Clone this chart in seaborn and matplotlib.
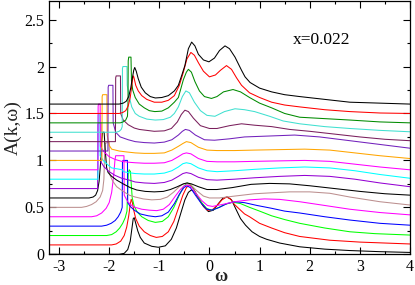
import matplotlib
matplotlib.use('Agg')
import matplotlib.pyplot as plt
from matplotlib.ticker import MultipleLocator, FuncFormatter
import seaborn as sns
import pandas as pd

# A(k,w) curves, (w, A) pairs, each k already shifted up by 0.1
k00 = [(-3.2, 0.0), (-1.80, 0.0), (-1.70, 0.01), (-1.63, 0.05), (-1.58, 0.14), (-1.55, 0.26), (-1.52, 0.38),
       (-1.50, 0.39), (-1.47, 0.33), (-1.43, 0.25), (-1.38, 0.18), (-1.30, 0.12), (-1.15, 0.085), (-1.02, 0.075),
       (-0.88, 0.09), (-0.76, 0.16), (-0.66, 0.28), (-0.57, 0.44), (-0.49, 0.58), (-0.42, 0.66), (-0.36, 0.685),
       (-0.30, 0.67), (-0.22, 0.60), (-0.12, 0.51), (-0.02, 0.455), (0.08, 0.47), (0.18, 0.54), (0.27, 0.60),
       (0.36, 0.61), (0.44, 0.58), (0.52, 0.49), (0.62, 0.38), (0.72, 0.31), (0.85, 0.24), (1.0, 0.19),
       (1.14, 0.16), (1.4, 0.12), (1.8, 0.08), (2.3, 0.055), (2.8, 0.04), (3.4, 0.028), (4.0, 0.02)]
k01 = [(-3.2, 0.1), (-1.95, 0.1), (-1.86, 0.11), (-1.77, 0.14), (-1.70, 0.20), (-1.65, 0.29), (-1.61, 0.41),
       (-1.58, 0.53), (-1.56, 0.585), (-1.54, 0.56), (-1.51, 0.47), (-1.47, 0.38), (-1.40, 0.30), (-1.30, 0.24),
       (-1.18, 0.20), (-1.06, 0.18), (-0.94, 0.19), (-0.82, 0.24), (-0.71, 0.35), (-0.62, 0.49), (-0.53, 0.63),
       (-0.46, 0.71), (-0.40, 0.74), (-0.33, 0.71), (-0.24, 0.62), (-0.14, 0.53), (-0.04, 0.47), (0.05, 0.47),
       (0.15, 0.52), (0.25, 0.58), (0.34, 0.61), (0.42, 0.59), (0.50, 0.53), (0.60, 0.48), (0.70, 0.43),
       (0.80, 0.40), (1.0, 0.33), (1.24, 0.28), (1.5, 0.23), (1.8, 0.19), (2.4, 0.15), (3.0, 0.13),
       (3.5, 0.12), (4.0, 0.11)]
k02 = [(-3.2, 0.2), (-2.05, 0.2), (-1.95, 0.21), (-1.86, 0.24), (-1.79, 0.28), (-1.73, 0.33), (-1.68, 0.39),
       (-1.645, 0.46), (-1.63, 0.70), (-1.62, 0.86), (-1.60, 0.90), (-1.575, 0.88), (-1.56, 0.75), (-1.54, 0.60),
       (-1.50, 0.51), (-1.44, 0.45), (-1.35, 0.40), (-1.22, 0.36), (-1.08, 0.34), (-0.94, 0.35), (-0.82, 0.40),
       (-0.71, 0.50), (-0.61, 0.62), (-0.52, 0.72), (-0.44, 0.76), (-0.37, 0.74), (-0.28, 0.66), (-0.17, 0.56),
       (-0.06, 0.49), (0.04, 0.47), (0.15, 0.49), (0.30, 0.53), (0.47, 0.555), (0.62, 0.54), (0.80, 0.50),
       (1.0, 0.46), (1.24, 0.41), (1.5, 0.37), (1.8, 0.33), (2.3, 0.28), (2.8, 0.24), (3.3, 0.22), (4.0, 0.205)]
k03 = [(-3.2, 0.3), (-2.15, 0.3), (-2.05, 0.31), (-1.96, 0.33), (-1.88, 0.36), (-1.82, 0.40), (-1.77, 0.45),
       (-1.74, 0.50), (-1.735, 0.98), (-1.725, 1.0), (-1.635, 1.0), (-1.63, 0.55), (-1.58, 0.51), (-1.50, 0.47),
       (-1.38, 0.43), (-1.22, 0.41), (-1.08, 0.40), (-0.95, 0.41), (-0.82, 0.45), (-0.70, 0.54), (-0.60, 0.64),
       (-0.51, 0.71), (-0.45, 0.73), (-0.38, 0.71), (-0.28, 0.63), (-0.16, 0.54), (-0.05, 0.48), (0.05, 0.47),
       (0.20, 0.50), (0.35, 0.54), (0.50, 0.56), (0.70, 0.55), (0.95, 0.52), (1.24, 0.49), (1.5, 0.46),
       (1.8, 0.44), (2.3, 0.40), (2.8, 0.365), (3.4, 0.33), (4.0, 0.31)]
k04 = [(-3.2, 0.4), (-2.35, 0.4), (-2.25, 0.41), (-2.15, 0.44), (-2.06, 0.49), (-2.0, 0.55), (-1.95, 0.66),
       (-1.91, 0.84), (-1.885, 1.0), (-1.87, 1.05), (-1.705, 1.05), (-1.70, 0.63), (-1.63, 0.56), (-1.55, 0.52),
       (-1.48, 0.50), (-1.35, 0.48), (-1.2, 0.47), (-1.05, 0.465), (-0.92, 0.48), (-0.80, 0.53), (-0.68, 0.62),
       (-0.58, 0.69), (-0.50, 0.73), (-0.44, 0.74), (-0.37, 0.72), (-0.27, 0.65), (-0.15, 0.57), (-0.04, 0.52),
       (0.06, 0.51), (0.25, 0.53), (0.50, 0.56), (0.80, 0.58), (1.1, 0.59), (1.4, 0.585), (1.8, 0.56),
       (2.3, 0.52), (2.8, 0.48), (3.4, 0.445), (4.0, 0.42)]
k05 = [(-3.2, 0.5), (-2.55, 0.5), (-2.45, 0.51), (-2.35, 0.53), (-2.26, 0.56), (-2.18, 0.61), (-2.13, 0.68),
       (-2.105, 0.80), (-2.09, 1.10), (-2.08, 1.18), (-2.0, 1.2), (-1.99, 0.85), (-1.93, 0.78), (-1.85, 0.72),
       (-1.72, 0.67), (-1.60, 0.63), (-1.48, 0.61), (-1.32, 0.59), (-1.15, 0.58), (-0.98, 0.585), (-0.84, 0.61),
       (-0.72, 0.66), (-0.60, 0.72), (-0.52, 0.75), (-0.45, 0.755), (-0.37, 0.74), (-0.26, 0.68), (-0.12, 0.62),
       (0.0, 0.60), (0.2, 0.60), (0.5, 0.62), (0.9, 0.645), (1.24, 0.655), (1.6, 0.665), (2.0, 0.665),
       (2.4, 0.65), (2.8, 0.61), (3.4, 0.56), (4.0, 0.525)]
k06 = [(-3.2, 0.6), (-2.40, 0.6), (-2.32, 0.61), (-2.27, 0.63), (-2.23, 0.68), (-2.20, 0.78), (-2.17, 0.98),
       (-2.15, 1.20), (-2.13, 1.30), (-2.10, 1.30), (-2.08, 1.12), (-2.05, 0.92), (-2.02, 0.87), (-1.95, 0.83),
       (-1.85, 0.79), (-1.72, 0.75), (-1.58, 0.71), (-1.45, 0.685), (-1.28, 0.67), (-1.10, 0.665), (-0.92, 0.67),
       (-0.78, 0.69), (-0.64, 0.72), (-0.52, 0.75), (-0.45, 0.76), (-0.36, 0.75), (-0.22, 0.72), (-0.05, 0.69),
       (0.15, 0.69), (0.45, 0.71), (0.83, 0.745), (1.2, 0.755), (1.6, 0.75), (2.0, 0.73), (2.5, 0.70),
       (3.0, 0.67), (3.5, 0.645), (4.0, 0.63)]
k07 = [(-3.2, 0.7), (-2.23, 0.7), (-2.225, 1.38), (-2.215, 1.40), (-2.165, 1.40), (-2.16, 0.98), (-2.10, 0.93),
       (-2.0, 0.88), (-1.88, 0.84), (-1.75, 0.81), (-1.6, 0.79), (-1.48, 0.77), (-1.30, 0.76), (-1.10, 0.755),
       (-0.90, 0.765), (-0.75, 0.79), (-0.62, 0.83), (-0.53, 0.86), (-0.46, 0.87), (-0.37, 0.86), (-0.22, 0.82),
       (-0.05, 0.795), (0.15, 0.79), (0.5, 0.80), (0.9, 0.815), (1.4, 0.83), (1.9, 0.84), (2.4, 0.83),
       (2.9, 0.80), (3.4, 0.76), (4.0, 0.72)]
k08 = [(-3.2, 0.8), (-2.225, 0.8), (-2.22, 1.48), (-2.21, 1.50), (-2.185, 1.50), (-2.18, 1.05), (-2.12, 1.0),
       (-2.02, 0.95), (-1.95, 0.92), (-1.73, 0.90), (-1.72, 0.88), (-1.62, 0.87), (-1.48, 0.86), (-1.30, 0.855),
       (-1.10, 0.855), (-0.90, 0.865), (-0.75, 0.89), (-0.62, 0.93), (-0.53, 0.965), (-0.46, 0.975),
       (-0.37, 0.965), (-0.22, 0.92), (-0.05, 0.89), (0.15, 0.88), (0.5, 0.89), (0.9, 0.905), (1.4, 0.92),
       (1.9, 0.93), (2.4, 0.92), (2.9, 0.89), (3.4, 0.85), (4.0, 0.81)]
k09 = [(-3.2, 0.9), (-2.225, 0.9), (-2.22, 1.58), (-2.21, 1.60), (-2.18, 1.60), (-2.175, 1.15), (-2.10, 1.09),
       (-2.0, 1.04), (-1.88, 1.01), (-1.75, 0.99), (-1.6, 0.98), (-1.48, 0.975), (-1.30, 0.97), (-1.10, 0.97),
       (-0.90, 0.975), (-0.75, 1.0), (-0.62, 1.04), (-0.53, 1.07), (-0.46, 1.08), (-0.37, 1.07), (-0.22, 1.02),
       (-0.05, 0.99), (0.15, 0.985), (0.5, 0.985), (0.9, 0.99), (1.4, 0.995), (1.9, 1.0), (2.4, 0.99),
       (2.9, 0.96), (3.4, 0.93), (4.0, 0.90)]
k10 = [(-3.2, 1.0), (-2.145, 1.0), (-2.14, 1.68), (-2.13, 1.70), (-2.045, 1.70), (-2.04, 1.27), (-2.0, 1.16),
       (-1.95, 1.12), (-1.8, 1.10), (-1.65, 1.09), (-1.48, 1.08), (-1.30, 1.075), (-1.10, 1.075), (-0.90, 1.08),
       (-0.75, 1.11), (-0.62, 1.15), (-0.53, 1.18), (-0.46, 1.20), (-0.37, 1.19), (-0.22, 1.14), (-0.05, 1.11),
       (0.15, 1.105), (0.5, 1.105), (0.9, 1.11), (1.4, 1.115), (1.9, 1.12), (2.4, 1.11), (2.9, 1.08),
       (3.4, 1.05), (4.0, 1.02)]
k11 = [(-3.2, 1.1), (-2.025, 1.1), (-2.02, 1.78), (-2.01, 1.80), (-1.925, 1.80), (-1.92, 1.40), (-1.87, 1.30),
       (-1.78, 1.25), (-1.62, 1.22), (-1.48, 1.20), (-1.30, 1.19), (-1.10, 1.185), (-0.90, 1.195), (-0.75, 1.22),
       (-0.62, 1.27), (-0.54, 1.31), (-0.48, 1.33), (-0.40, 1.32), (-0.28, 1.27), (-0.10, 1.22), (0.10, 1.215),
       (0.4, 1.23), (0.7, 1.25), (1.2, 1.26), (1.7, 1.27), (2.2, 1.25), (2.8, 1.21), (3.4, 1.17), (4.0, 1.13)]
k12 = [(-3.2, 1.2), (-1.875, 1.2), (-1.87, 1.88), (-1.86, 1.90), (-1.775, 1.90), (-1.77, 1.50), (-1.72, 1.43),
       (-1.62, 1.38), (-1.50, 1.345), (-1.40, 1.33), (-1.25, 1.32), (-1.10, 1.31), (-0.90, 1.315), (-0.76, 1.34),
       (-0.64, 1.41), (-0.56, 1.49), (-0.49, 1.535), (-0.42, 1.52), (-0.32, 1.45), (-0.18, 1.37), (0.0, 1.34),
       (0.15, 1.34), (0.4, 1.37), (0.64, 1.39), (0.9, 1.375), (1.24, 1.36), (1.6, 1.33), (2.0, 1.31),
       (2.5, 1.28), (3.0, 1.25), (3.5, 1.225), (4.0, 1.21)]
k13 = [(-3.2, 1.3), (-1.86, 1.3), (-1.80, 1.31), (-1.76, 1.33), (-1.74, 1.36), (-1.735, 1.98), (-1.725, 2.0),
       (-1.645, 2.0), (-1.64, 1.80), (-1.60, 1.68), (-1.55, 1.57), (-1.48, 1.50), (-1.40, 1.47), (-1.25, 1.44),
       (-1.08, 1.43), (-0.92, 1.435), (-0.78, 1.46), (-0.70, 1.50), (-0.62, 1.57), (-0.54, 1.68), (-0.47, 1.74),
       (-0.40, 1.72), (-0.30, 1.62), (-0.18, 1.53), (-0.05, 1.48), (0.11, 1.47), (0.30, 1.52), (0.51, 1.55),
       (0.7, 1.54), (0.9, 1.52), (1.2, 1.47), (1.47, 1.42), (1.8, 1.39), (2.3, 1.36), (2.8, 1.34),
       (3.4, 1.32), (4.0, 1.305)]
k14 = [(-3.2, 1.4), (-1.78, 1.4), (-1.72, 1.41), (-1.67, 1.43), (-1.635, 1.47), (-1.625, 1.60), (-1.62, 2.06),
       (-1.61, 2.10), (-1.565, 2.10), (-1.555, 1.85), (-1.53, 1.75), (-1.48, 1.67), (-1.40, 1.60), (-1.30, 1.56),
       (-1.20, 1.53), (-1.09, 1.52), (-0.95, 1.525), (-0.82, 1.56), (-0.70, 1.62), (-0.62, 1.67), (-0.52, 1.86),
       (-0.46, 1.94), (-0.42, 1.97), (-0.36, 1.94), (-0.29, 1.84), (-0.20, 1.74), (-0.10, 1.68), (0.04, 1.66),
       (0.15, 1.68), (0.28, 1.73), (0.47, 1.755), (0.62, 1.73), (0.80, 1.67), (1.0, 1.61), (1.24, 1.56),
       (1.5, 1.50), (1.8, 1.46), (2.3, 1.445), (2.8, 1.43), (3.4, 1.41), (4.0, 1.40)]
k15 = [(-3.2, 1.5), (-1.80, 1.5), (-1.73, 1.51), (-1.67, 1.53), (-1.62, 1.58), (-1.58, 1.67), (-1.55, 1.79),
       (-1.53, 1.88), (-1.515, 1.90), (-1.50, 1.87), (-1.47, 1.80), (-1.42, 1.74), (-1.35, 1.69), (-1.25, 1.65),
       (-1.10, 1.62), (-0.95, 1.62), (-0.82, 1.64), (-0.70, 1.69), (-0.60, 1.80), (-0.52, 1.94), (-0.45, 2.08),
       (-0.37, 2.15), (-0.30, 2.12), (-0.22, 2.04), (-0.12, 1.95), (0.0, 1.89), (0.12, 1.91), (0.22, 1.96),
       (0.34, 2.01), (0.44, 1.97), (0.54, 1.88), (0.64, 1.80), (0.80, 1.72), (1.0, 1.67), (1.24, 1.62),
       (1.5, 1.59), (1.8, 1.57), (2.3, 1.54), (2.8, 1.52), (3.4, 1.505), (4.0, 1.50)]
k16 = [(-3.2, 1.6), (-1.80, 1.6), (-1.72, 1.61), (-1.66, 1.63), (-1.61, 1.68), (-1.57, 1.77), (-1.54, 1.87),
       (-1.51, 1.96), (-1.49, 1.99), (-1.46, 1.95), (-1.42, 1.87), (-1.36, 1.78), (-1.28, 1.72), (-1.18, 1.68),
       (-1.08, 1.665), (-0.95, 1.67), (-0.82, 1.69), (-0.70, 1.74), (-0.62, 1.80), (-0.55, 1.91), (-0.49, 2.01),
       (-0.42, 2.19), (-0.355, 2.26), (-0.29, 2.22), (-0.22, 2.13), (-0.12, 2.07), (-0.01, 2.05), (0.10, 2.09),
       (0.20, 2.17), (0.31, 2.22), (0.40, 2.19), (0.51, 2.10), (0.64, 1.96), (0.71, 1.89), (0.81, 1.83),
       (1.0, 1.77), (1.24, 1.73), (1.5, 1.70), (1.8, 1.68), (2.3, 1.65), (2.8, 1.62), (3.4, 1.61), (4.0, 1.60)]

curve_colors = ['#000000', '#ff0000', '#00ff00', '#0000ff', '#ff00ff', '#bc8f8f', '#000000', '#9400d3',
                '#00ffff', '#ff00ff', '#ffa500', '#7221bc', '#7a1f5c', '#40e0d0', '#008b00', '#ff0000', '#000000']

curves = [k00, k01, k02, k03, k04, k05, k06, k07, k08, k09, k10, k11, k12, k13, k14, k15, k16]

rows = []
for i, pts in enumerate(curves):
    for w, a in pts:
        rows.append({'w': w, 'A': a, 'k': 'k%02d' % i})
df = pd.DataFrame(rows)
palette = {'k%02d' % i: c for i, c in enumerate(curve_colors)}

sns.set_theme(style='ticks')
plt.rcParams['font.family'] = ['Liberation Serif', 'DejaVu Serif']
plt.rcParams['axes.unicode_minus'] = False

fig = plt.figure(figsize=(4.15, 2.85), dpi=100)
ax = fig.add_axes([49 / 415, 30.7 / 285, 361 / 415, 253.5 / 285])

sns.lineplot(data=df, x='w', y='A', hue='k', palette=palette, estimator=None, sort=False,
             legend=False, linewidth=0.75, ax=ax)

ax.set_xlim(-3.2, 4)
ax.set_ylim(0, 2.7)
ax.xaxis.set_major_locator(MultipleLocator(1))
ax.xaxis.set_minor_locator(MultipleLocator(0.5))
ax.yaxis.set_major_locator(MultipleLocator(0.5))
ax.yaxis.set_minor_locator(MultipleLocator(0.25))
ax.yaxis.set_major_formatter(FuncFormatter(lambda v, p: '%g' % v))
ax.tick_params(which='both', direction='in', top=True, right=True, width=0.8, colors='black',
               labelsize=11.5, pad=3.5)
ax.tick_params(which='major', length=5)
ax.tick_params(which='minor', length=2.5)
for s in ax.spines.values():
    s.set_color('black')
    s.set_linewidth(0.9)

ax.set_xlabel('ω', fontsize=13, fontweight='bold', va='center')
ax.xaxis.set_label_coords(0.476, -0.088)
ax.set_ylabel('A(k,ω)', fontsize=14, labelpad=2)
ax.text(1.66, 2.245, 'x=0.022', fontsize=12.5, color='black')

fig.savefig('out.png', dpi=100)
